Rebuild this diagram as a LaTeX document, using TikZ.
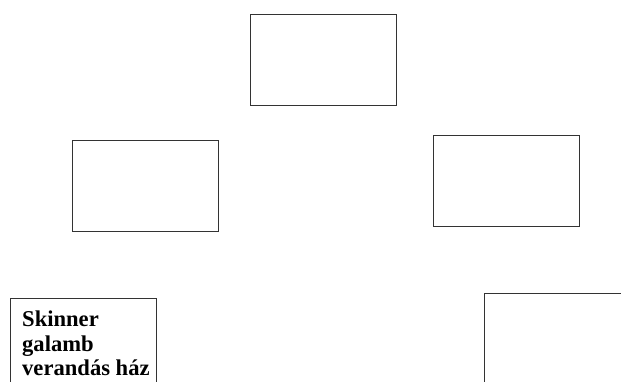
\documentclass[tikz,border=0pt]{standalone}
\usepackage{fontspec}
\setmainfont{Liberation Serif}
\usepackage{xcolor}
\usetikzlibrary{positioning}
\definecolor{frame}{HTML}{333333}

\begin{document}
\begin{tikzpicture}[x=1pt,y=-1pt,
 box/.style={draw=frame,line width=1.1pt,minimum width=146pt,minimum height=91pt,anchor=north west,inner sep=0pt},
 label/.style={font=\bfseries\fontsize{22.6}{24.5}\selectfont,align=left,inner sep=0pt}]
 \useasboundingbox (0,0) rectangle (621,381);
 \node[box] (top) at (250,14) {};
 \node[box] (left) at (72,140) {};
 \node[box] (right) at (433,135) {};
 \node[box] (skinner) at (10,298) {};
 \node[label,below right=13pt and 12pt of skinner.north west] (skinnertext) {Skinner\\galamb\\verandás ház};
 \node[box] (corner) at (484,293) {};
\end{tikzpicture}
\end{document}
